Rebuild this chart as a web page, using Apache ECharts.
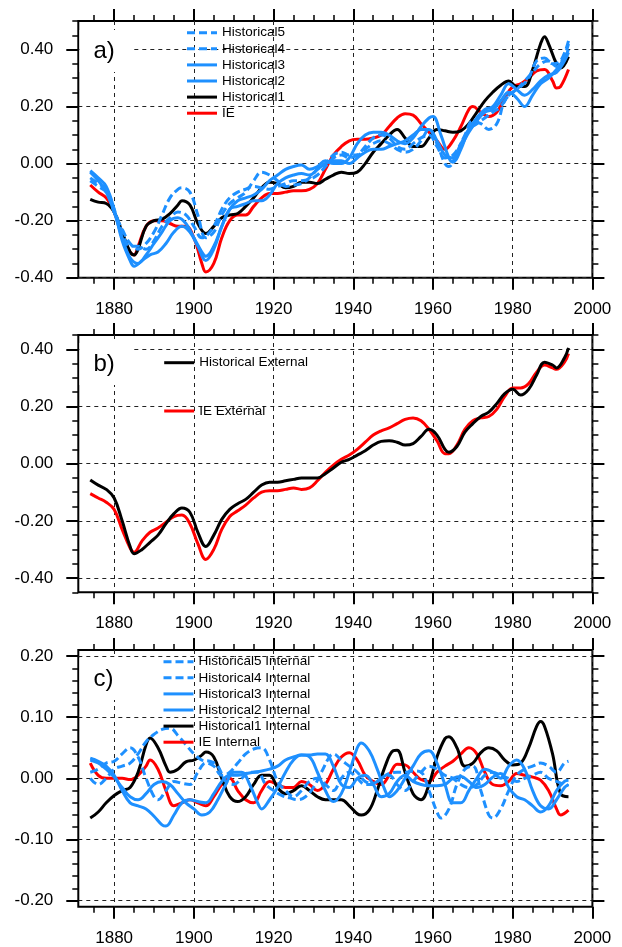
<!DOCTYPE html>
<html>
<head>
<meta charset="utf-8">
<script src="https://cdn.jsdelivr.net/npm/echarts@6/dist/echarts.min.js"></script>
<style>
html,body{margin:0;padding:0;background:#fff;}
#chart{width:622px;height:947px;}
</style>
</head>
<body>
<div id="chart"></div>
<script>
// ---------------- tick values ----------------
const xTicks = [1880, 1900, 1920, 1940, 1960, 1980, 2000];
const xMinorTicks = [1875, 1885, 1890, 1895, 1905, 1910, 1915, 1925, 1930, 1935, 1945, 1950, 1955, 1965, 1970, 1975, 1985, 1990, 1995];
const yTicksA = [-0.4, -0.2, 0, 0.2, 0.4];
const yMinorA = [-0.35, -0.3, -0.25, -0.15, -0.1, -0.05, 0.05, 0.1, 0.15, 0.25, 0.3, 0.35, 0.45, 0.5];
const yTicksB = [-0.4, -0.2, 0, 0.2, 0.4];
const yMinorB = [-0.45, -0.35, -0.3, -0.25, -0.15, -0.1, -0.05, 0.05, 0.1, 0.15, 0.25, 0.3, 0.35, 0.45];
const yTicksC = [-0.2, -0.1, 0, 0.1, 0.2];
const yMinorC = [-0.18, -0.16, -0.14, -0.12, -0.08, -0.06, -0.04, -0.02, 0.02, 0.04, 0.06, 0.08, 0.12, 0.14, 0.16, 0.18];

// ---------------- panel a ----------------
const aIE = [[1874,-0.075],[1876,-0.10],[1878,-0.12],[1880,-0.17],[1882,-0.25],[1884,-0.31],[1885,-0.32],[1886,-0.29],[1888,-0.22],[1890,-0.20],[1892,-0.20],[1894,-0.21],[1896,-0.22],[1898,-0.22],[1900,-0.26],[1902,-0.35],[1903,-0.38],[1905,-0.35],[1907,-0.26],[1909,-0.20],[1911,-0.18],[1913,-0.18],[1915,-0.15],[1917,-0.12],[1919,-0.105],[1921,-0.105],[1923,-0.10],[1925,-0.095],[1927,-0.095],[1929,-0.09],[1931,-0.07],[1933,-0.02],[1935,0.03],[1937,0.06],[1939,0.08],[1941,0.085],[1943,0.085],[1945,0.09],[1947,0.10],[1949,0.13],[1951,0.16],[1953,0.175],[1955,0.17],[1957,0.14],[1959,0.11],[1961,0.08],[1963,0.05],[1965,0.08],[1967,0.13],[1969,0.19],[1970,0.20],[1972,0.18],[1974,0.165],[1976,0.18],[1978,0.23],[1980,0.27],[1982,0.28],[1984,0.30],[1986,0.325],[1988,0.33],[1990,0.29],[1991,0.265],[1992,0.27],[1994,0.33]];
const aHist1 = [[1874,-0.125],[1876,-0.135],[1878,-0.14],[1880,-0.17],[1882,-0.24],[1884,-0.31],[1885,-0.32],[1886,-0.30],[1888,-0.22],[1890,-0.20],[1892,-0.195],[1894,-0.175],[1896,-0.145],[1897,-0.13],[1899,-0.145],[1901,-0.21],[1903,-0.245],[1905,-0.22],[1907,-0.19],[1909,-0.18],[1911,-0.175],[1913,-0.15],[1915,-0.12],[1917,-0.085],[1919,-0.065],[1921,-0.07],[1923,-0.085],[1925,-0.08],[1927,-0.065],[1929,-0.065],[1931,-0.07],[1933,-0.055],[1935,-0.04],[1937,-0.03],[1939,-0.035],[1941,-0.03],[1943,0.0],[1945,0.04],[1947,0.07],[1949,0.10],[1951,0.12],[1953,0.09],[1955,0.06],[1957,0.06],[1959,0.09],[1961,0.12],[1963,0.115],[1965,0.11],[1967,0.115],[1969,0.14],[1971,0.18],[1973,0.22],[1975,0.25],[1977,0.275],[1979,0.29],[1981,0.27],[1983,0.27],[1985,0.33],[1987,0.42],[1988,0.445],[1989,0.42],[1991,0.35],[1992,0.335],[1994,0.375]];
const aHist2 = [[1874,-0.025],[1876,-0.05],[1878,-0.08],[1880,-0.16],[1882,-0.27],[1884,-0.34],[1885,-0.36],[1887,-0.34],[1889,-0.32],[1891,-0.31],[1893,-0.28],[1895,-0.24],[1897,-0.22],[1899,-0.24],[1901,-0.29],[1903,-0.34],[1905,-0.30],[1907,-0.22],[1909,-0.16],[1911,-0.13],[1913,-0.12],[1915,-0.11],[1917,-0.09],[1919,-0.06],[1921,-0.04],[1923,-0.02],[1925,-0.01],[1927,-0.005],[1929,-0.02],[1931,-0.01],[1933,0.01],[1935,0.0],[1937,0.0],[1939,0.02],[1941,0.07],[1943,0.10],[1945,0.11],[1947,0.11],[1949,0.10],[1951,0.08],[1953,0.07],[1955,0.09],[1957,0.13],[1959,0.16],[1960,0.165],[1962,0.10],[1964,0.02],[1965,0.005],[1967,0.05],[1969,0.12],[1971,0.16],[1973,0.19],[1975,0.20],[1977,0.24],[1979,0.28],[1981,0.26],[1983,0.24],[1985,0.26],[1987,0.29],[1989,0.31],[1991,0.32],[1993,0.36],[1994,0.39]];
const aHist3 = [[1874,-0.03],[1876,-0.06],[1878,-0.10],[1880,-0.17],[1882,-0.26],[1884,-0.33],[1886,-0.35],[1888,-0.32],[1890,-0.28],[1892,-0.24],[1894,-0.20],[1896,-0.19],[1898,-0.21],[1900,-0.26],[1902,-0.31],[1903,-0.325],[1905,-0.29],[1907,-0.22],[1909,-0.16],[1911,-0.15],[1913,-0.14],[1915,-0.13],[1917,-0.13],[1919,-0.11],[1921,-0.07],[1923,-0.05],[1925,-0.04],[1927,-0.035],[1929,-0.04],[1931,-0.02],[1933,0.0],[1935,0.01],[1937,0.01],[1939,0.0],[1941,0.02],[1943,0.04],[1945,0.05],[1947,0.05],[1949,0.06],[1951,0.07],[1953,0.08],[1955,0.10],[1957,0.12],[1959,0.12],[1961,0.08],[1963,0.03],[1965,0.02],[1967,0.06],[1969,0.11],[1971,0.15],[1973,0.18],[1975,0.19],[1977,0.22],[1979,0.25],[1981,0.23],[1983,0.20],[1985,0.24],[1987,0.28],[1989,0.30],[1991,0.33],[1993,0.37],[1994,0.40]];
const aHist4 = [[1874,-0.06],[1876,-0.08],[1878,-0.10],[1880,-0.17],[1882,-0.23],[1884,-0.28],[1886,-0.30],[1888,-0.28],[1890,-0.24],[1892,-0.18],[1894,-0.12],[1896,-0.09],[1897,-0.085],[1899,-0.10],[1901,-0.18],[1903,-0.26],[1905,-0.24],[1907,-0.18],[1909,-0.14],[1911,-0.12],[1913,-0.10],[1915,-0.06],[1917,-0.03],[1919,-0.04],[1921,-0.06],[1923,-0.08],[1925,-0.075],[1927,-0.07],[1929,-0.05],[1931,-0.02],[1933,0.0],[1935,0.03],[1937,0.04],[1939,0.03],[1941,0.03],[1943,0.05],[1945,0.07],[1947,0.08],[1949,0.07],[1951,0.05],[1953,0.04],[1955,0.05],[1957,0.08],[1959,0.12],[1961,0.07],[1963,0.0],[1964,-0.01],[1966,0.04],[1968,0.10],[1970,0.15],[1972,0.14],[1974,0.12],[1976,0.14],[1978,0.22],[1980,0.25],[1982,0.27],[1984,0.30],[1986,0.36],[1988,0.37],[1990,0.35],[1992,0.36],[1994,0.43]];
const aHist5 = [[1874,-0.05],[1876,-0.07],[1878,-0.09],[1880,-0.16],[1882,-0.24],[1884,-0.29],[1886,-0.29],[1888,-0.30],[1890,-0.27],[1892,-0.22],[1894,-0.19],[1896,-0.17],[1898,-0.18],[1900,-0.22],[1902,-0.26],[1903,-0.255],[1905,-0.22],[1907,-0.16],[1909,-0.12],[1911,-0.10],[1913,-0.09],[1915,-0.08],[1917,-0.085],[1919,-0.09],[1921,-0.08],[1923,-0.07],[1925,-0.06],[1927,-0.06],[1929,-0.055],[1931,-0.04],[1933,-0.01],[1935,0.02],[1937,0.03],[1939,0.02],[1941,0.03],[1943,0.06],[1945,0.09],[1947,0.10],[1949,0.09],[1951,0.06],[1953,0.05],[1955,0.07],[1957,0.09],[1959,0.10],[1961,0.06],[1963,0.02],[1965,0.03],[1967,0.07],[1969,0.12],[1971,0.14],[1973,0.16],[1975,0.18],[1977,0.20],[1979,0.24],[1981,0.26],[1983,0.29],[1985,0.32],[1987,0.35],[1989,0.36],[1991,0.34],[1993,0.38],[1994,0.42]];

// ---------------- panel b ----------------
const bHistExt = [[1874,-0.057],[1876,-0.075],[1878,-0.09],[1880,-0.12],[1882,-0.20],[1884,-0.29],[1885,-0.315],[1887,-0.30],[1889,-0.275],[1891,-0.25],[1893,-0.21],[1895,-0.175],[1897,-0.155],[1899,-0.17],[1901,-0.24],[1903,-0.29],[1905,-0.25],[1907,-0.195],[1909,-0.16],[1911,-0.14],[1913,-0.125],[1915,-0.10],[1917,-0.075],[1919,-0.065],[1921,-0.065],[1923,-0.06],[1925,-0.055],[1927,-0.05],[1929,-0.05],[1931,-0.05],[1933,-0.035],[1935,-0.015],[1937,0.005],[1939,0.015],[1941,0.03],[1943,0.045],[1945,0.065],[1947,0.078],[1949,0.08],[1951,0.075],[1953,0.065],[1955,0.07],[1957,0.095],[1959,0.12],[1961,0.10],[1963,0.05],[1964,0.04],[1966,0.06],[1968,0.11],[1970,0.14],[1972,0.165],[1974,0.18],[1976,0.21],[1978,0.245],[1980,0.26],[1982,0.24],[1984,0.26],[1986,0.31],[1988,0.355],[1990,0.345],[1991,0.335],[1993,0.37],[1994,0.405]];
const bIEExt = [[1874,-0.105],[1876,-0.12],[1878,-0.135],[1880,-0.16],[1882,-0.23],[1884,-0.295],[1885,-0.31],[1887,-0.27],[1889,-0.24],[1891,-0.225],[1893,-0.205],[1895,-0.185],[1897,-0.18],[1899,-0.21],[1901,-0.28],[1903,-0.335],[1905,-0.30],[1907,-0.23],[1909,-0.185],[1911,-0.165],[1913,-0.145],[1915,-0.12],[1917,-0.10],[1919,-0.095],[1921,-0.095],[1923,-0.09],[1925,-0.085],[1927,-0.09],[1929,-0.085],[1931,-0.06],[1933,-0.03],[1935,-0.005],[1937,0.015],[1939,0.03],[1941,0.05],[1943,0.075],[1945,0.10],[1947,0.115],[1949,0.125],[1951,0.14],[1953,0.155],[1955,0.16],[1957,0.15],[1959,0.12],[1961,0.08],[1963,0.035],[1964,0.035],[1966,0.065],[1968,0.12],[1970,0.15],[1972,0.16],[1974,0.165],[1976,0.19],[1978,0.235],[1980,0.265],[1982,0.265],[1984,0.28],[1986,0.32],[1988,0.345],[1990,0.335],[1991,0.33],[1993,0.355],[1994,0.385]];

// ---------------- panel c ----------------
const cHist1 = [[1874,-0.065],[1876,-0.055],[1878,-0.04],[1880,-0.028],[1882,-0.02],[1884,-0.015],[1886,0.01],[1888,0.055],[1889,0.066],[1891,0.05],[1893,0.02],[1894,0.01],[1896,0.015],[1898,0.027],[1900,0.03],[1902,0.038],[1903,0.043],[1905,0.035],[1907,0.0],[1909,-0.03],[1911,-0.038],[1913,-0.03],[1915,-0.01],[1917,0.005],[1919,0.005],[1921,-0.015],[1923,-0.025],[1925,-0.02],[1927,-0.012],[1929,-0.02],[1931,-0.03],[1933,-0.035],[1935,-0.035],[1937,-0.035],[1939,-0.045],[1941,-0.058],[1942,-0.06],[1944,-0.052],[1946,-0.02],[1948,0.02],[1950,0.045],[1951,0.046],[1953,0.01],[1955,-0.025],[1957,-0.035],[1959,-0.01],[1961,0.035],[1963,0.065],[1964,0.068],[1966,0.05],[1968,0.02],[1970,0.025],[1972,0.042],[1974,0.05],[1976,0.045],[1978,0.03],[1980,0.022],[1982,0.025],[1984,0.05],[1986,0.085],[1987,0.093],[1988,0.085],[1990,0.04],[1992,-0.025],[1994,-0.03]];
const cIE = [[1874,0.025],[1876,0.005],[1878,0.0],[1880,0.0],[1882,0.0],[1884,-0.002],[1886,0.005],[1888,0.02],[1889,0.03],[1891,0.015],[1893,-0.02],[1895,-0.045],[1897,-0.04],[1899,-0.035],[1901,-0.04],[1903,-0.045],[1905,-0.03],[1907,-0.01],[1909,0.0],[1911,-0.02],[1913,-0.035],[1915,-0.04],[1917,-0.02],[1919,-0.005],[1921,-0.01],[1923,-0.015],[1925,-0.015],[1927,-0.005],[1929,-0.01],[1931,-0.02],[1933,-0.01],[1935,0.015],[1937,0.035],[1939,0.042],[1941,0.03],[1943,0.005],[1945,-0.005],[1947,-0.01],[1949,0.005],[1951,0.023],[1953,0.022],[1955,0.01],[1957,-0.002],[1959,-0.005],[1961,0.01],[1963,0.02],[1965,0.028],[1967,0.04],[1969,0.05],[1971,0.04],[1973,0.01],[1975,-0.01],[1977,-0.012],[1979,-0.005],[1981,0.008],[1983,0.005],[1985,0.002],[1987,-0.003],[1989,-0.02],[1991,-0.05],[1992,-0.06],[1994,-0.052]];
const cHist2 = [[1874,0.033],[1876,0.028],[1878,0.02],[1880,0.005],[1882,-0.02],[1884,-0.04],[1886,-0.045],[1888,-0.05],[1890,-0.062],[1892,-0.076],[1893,-0.078],[1895,-0.06],[1897,-0.04],[1899,-0.035],[1901,-0.038],[1903,-0.04],[1905,-0.025],[1907,-0.005],[1909,0.005],[1911,0.005],[1913,0.008],[1915,0.01],[1917,0.012],[1919,0.015],[1921,0.02],[1923,0.03],[1925,0.035],[1927,0.038],[1929,0.038],[1931,0.04],[1933,0.04],[1935,0.02],[1937,-0.01],[1939,-0.015],[1941,0.0],[1943,0.005],[1945,-0.01],[1947,-0.03],[1949,-0.025],[1951,-0.005],[1953,0.005],[1955,-0.005],[1957,-0.01],[1959,-0.012],[1961,-0.012],[1963,-0.01],[1965,0.0],[1967,0.003],[1969,-0.005],[1971,-0.015],[1973,-0.01],[1975,0.002],[1977,0.008],[1979,-0.015],[1981,-0.03],[1983,-0.035],[1985,-0.045],[1987,-0.055],[1989,-0.045],[1991,-0.02],[1993,-0.005],[1994,-0.003]];
const cHist3 = [[1874,0.03],[1876,0.025],[1878,0.015],[1880,0.002],[1882,-0.015],[1884,-0.03],[1886,-0.035],[1888,-0.025],[1890,-0.01],[1892,-0.005],[1894,-0.01],[1896,-0.025],[1898,-0.04],[1900,-0.05],[1902,-0.06],[1904,-0.055],[1906,-0.035],[1908,-0.01],[1910,0.01],[1912,0.01],[1914,-0.01],[1916,-0.04],[1917,-0.05],[1919,-0.035],[1921,-0.015],[1923,0.01],[1925,0.03],[1927,0.038],[1929,0.035],[1931,0.01],[1933,-0.02],[1935,-0.038],[1937,-0.025],[1939,0.01],[1941,0.05],[1942,0.058],[1944,0.045],[1946,0.015],[1948,-0.02],[1949,-0.03],[1951,-0.02],[1953,0.0],[1955,0.02],[1957,0.04],[1959,0.045],[1961,0.025],[1963,-0.01],[1965,-0.04],[1967,-0.04],[1969,-0.02],[1971,0.0],[1973,0.015],[1975,0.01],[1977,0.0],[1979,0.02],[1981,0.03],[1983,0.015],[1985,-0.02],[1987,-0.045],[1989,-0.05],[1991,-0.035],[1993,-0.015],[1994,-0.01]];
const cHist4 = [[1874,0.0],[1876,-0.01],[1878,0.0],[1880,0.015],[1882,0.02],[1884,0.025],[1886,0.04],[1888,0.06],[1890,0.072],[1892,0.08],[1894,0.082],[1896,0.07],[1898,0.055],[1900,0.04],[1902,0.03],[1904,0.028],[1906,0.02],[1908,-0.005],[1910,-0.01],[1912,0.0],[1914,0.01],[1916,0.01],[1918,-0.01],[1920,-0.02],[1922,-0.028],[1924,-0.032],[1926,-0.035],[1928,-0.03],[1930,-0.015],[1932,0.01],[1934,0.035],[1935,0.04],[1937,0.03],[1939,0.02],[1941,0.01],[1943,-0.005],[1945,-0.008],[1947,0.0],[1949,0.008],[1951,0.01],[1953,0.01],[1955,0.012],[1957,0.01],[1959,-0.02],[1961,-0.055],[1962,-0.065],[1964,-0.05],[1966,-0.01],[1968,0.015],[1970,0.02],[1972,-0.02],[1974,-0.06],[1975,-0.065],[1977,-0.05],[1979,-0.02],[1981,0.005],[1983,0.015],[1985,0.02],[1987,0.025],[1989,0.02],[1991,0.01],[1993,0.025],[1994,0.028]];
const cHist5 = [[1874,0.01],[1876,0.015],[1878,0.025],[1880,0.028],[1882,0.04],[1884,0.05],[1886,0.035],[1888,0.0],[1890,-0.03],[1891,-0.035],[1893,-0.02],[1895,-0.005],[1897,-0.008],[1899,-0.01],[1901,0.01],[1903,0.025],[1905,0.02],[1907,0.005],[1909,0.01],[1911,0.025],[1913,0.04],[1915,0.048],[1917,0.05],[1919,0.03],[1921,-0.005],[1923,-0.02],[1925,-0.03],[1927,-0.02],[1929,-0.005],[1931,0.0],[1933,-0.01],[1935,-0.02],[1937,0.0],[1939,0.01],[1941,0.0],[1943,-0.01],[1945,-0.01],[1947,0.0],[1949,0.005],[1951,-0.01],[1953,-0.02],[1955,-0.005],[1957,0.01],[1959,0.02],[1961,0.015],[1963,0.005],[1965,0.0],[1967,-0.01],[1969,-0.015],[1971,-0.01],[1973,0.005],[1975,0.01],[1977,0.005],[1979,0.0],[1981,-0.005],[1983,0.0],[1985,0.005],[1987,0.01],[1989,0.0],[1991,-0.005],[1993,-0.01],[1994,-0.012]];

// ---------------- layout / style ----------------
const FONT = "'Liberation Sans', Arial, Helvetica, sans-serif";
const BLUE = '#1E90FF', RED = '#FF0000', BLACK = '#000000';
const X_MIN = 1871, X_MAX = 2000;

const panels = [
  {top: 21,  height: 256.7, ymin: -0.4,  ymax: 0.5,  yMajor: yTicksA, yMinor: yMinorA, tag: 'a)'},
  {top: 335, height: 257.3, ymin: -0.45, ymax: 0.45, yMajor: yTicksB, yMinor: yMinorB, tag: 'b)'},
  {top: 650, height: 256.7, ymin: -0.21, ymax: 0.21, yMajor: yTicksC, yMinor: yMinorC, tag: 'c)'}
];

const grid = [], xAxis = [], yAxis = [], graphic = [];
const gridLine = {show: true, lineStyle: {color: '#222', width: 1, type: [4, 4]}};
panels.forEach((p, gi) => {
  grid.push({left: 78.3, right: 29.6, top: p.top, height: p.height, show: true,
    borderColor: '#000', borderWidth: 2, backgroundColor: 'transparent', containLabel: false});
  const xBase = {gridIndex: gi, type: 'value', min: X_MIN, max: X_MAX,
    axisLine: {show: false, onZero: false}, splitLine: {show: false}, axisLabel: {show: false}};
  const yBase = {gridIndex: gi, type: 'value', min: p.ymin, max: p.ymax,
    axisLine: {show: false, onZero: false}, splitLine: {show: false}, axisLabel: {show: false}};
  const majTick = (vals) => ({show: true, inside: false, length: 12, customValues: vals, lineStyle: {color: '#000', width: 2}});
  const minTick = (vals) => ({show: true, inside: false, length: 6, customValues: vals, lineStyle: {color: '#000', width: 1.5}});
  xAxis.push(Object.assign({}, xBase, {position: 'bottom', axisTick: majTick(xTicks),
    splitLine: gridLine,
    axisLabel: {show: true, customValues: xTicks, formatter: v => String(Math.round(v)),
      fontFamily: FONT, fontSize: 17, color: '#000', margin: 23}}));
  xAxis.push(Object.assign({}, xBase, {position: 'bottom', axisTick: minTick(xMinorTicks)}));
  xAxis.push(Object.assign({}, xBase, {position: 'top', axisTick: majTick(xTicks)}));
  xAxis.push(Object.assign({}, xBase, {position: 'top', axisTick: minTick(xMinorTicks)}));
  yAxis.push(Object.assign({}, yBase, {position: 'left', axisTick: majTick(p.yMajor),
    splitLine: gridLine,
    axisLabel: {show: true, customValues: p.yMajor, formatter: v => v.toFixed(2),
      fontFamily: FONT, fontSize: 17, color: '#000', margin: 25}}));
  yAxis.push(Object.assign({}, yBase, {position: 'left', axisTick: minTick(p.yMinor)}));
  yAxis.push(Object.assign({}, yBase, {position: 'right', axisTick: majTick(p.yMajor)}));
  yAxis.push(Object.assign({}, yBase, {position: 'right', axisTick: minTick(p.yMinor)}));
  graphic.push({type: 'text', left: 79.5, top: p.top + (gi === 0 ? 9 : gi === 1 ? 8 : 8),
    z: 50,
    style: {text: p.tag, font: '24px ' + FONT, fill: '#000', backgroundColor: '#fff',
      padding: [9, 17, 9, 14]}});
});

function mk(name, data, gi, color, dashed) {
  return {name: name, type: 'line', xAxisIndex: gi * 4, yAxisIndex: gi * 4, data: data,
    smooth: 0.4, showSymbol: false, symbol: 'none', z: 3, silent: true,
    lineStyle: {color: color, width: 3, type: dashed ? [8, 4] : 'solid'},
    itemStyle: {color: color}};
}

const series = [
  mk('IE', aIE, 0, RED), mk('Historical1', aHist1, 0, BLACK),
  mk('Historical2', aHist2, 0, BLUE), mk('Historical3', aHist3, 0, BLUE),
  mk('Historical4', aHist4, 0, BLUE, true), mk('Historical5', aHist5, 0, BLUE, true),
  mk('IE External', bIEExt, 1, RED), mk('Historical External', bHistExt, 1, BLACK),
  mk('IE Internal', cIE, 2, RED), mk('Historical1 Internal', cHist1, 2, BLACK),
  mk('Historical2 Internal', cHist2, 2, BLUE), mk('Historical3 Internal', cHist3, 2, BLUE),
  mk('Historical4 Internal', cHist4, 2, BLUE, true), mk('Historical5 Internal', cHist5, 2, BLUE, true)
];

const legText = {fontFamily: FONT, fontSize: 13.5, color: '#000'};
const legBase = {orient: 'vertical', itemWidth: 30, itemHeight: 14, selectedMode: false,
  textStyle: legText, lineStyle: {width: 3},
  itemStyle: {color: 'rgba(0,0,0,0)', borderColor: 'rgba(0,0,0,0)', borderWidth: 0, opacity: 0},
  padding: 0};
const legend = [
  Object.assign({}, legBase, {left: 185.5, top: 25.7, itemGap: 2.1,
    data: ['Historical5', 'Historical4', 'Historical3', 'Historical2', 'Historical1', 'IE']}),
  Object.assign({}, legBase, {left: 162.7, top: 355.7, itemGap: 34.3,
    data: ['Historical External', 'IE External']}),
  Object.assign({}, legBase, {left: 162, top: 654.7, itemGap: 2.1,
    data: ['Historical5 Internal', 'Historical4 Internal', 'Historical3 Internal', 'Historical2 Internal', 'Historical1 Internal', 'IE Internal']})
];

const chart = echarts.init(document.getElementById('chart'), null, {renderer: 'canvas'});
chart.setOption({
  animation: false,
  backgroundColor: '#fff',
  grid: grid, xAxis: xAxis, yAxis: yAxis,
  legend: legend, series: series, graphic: graphic
});
</script>
</body>
</html>
